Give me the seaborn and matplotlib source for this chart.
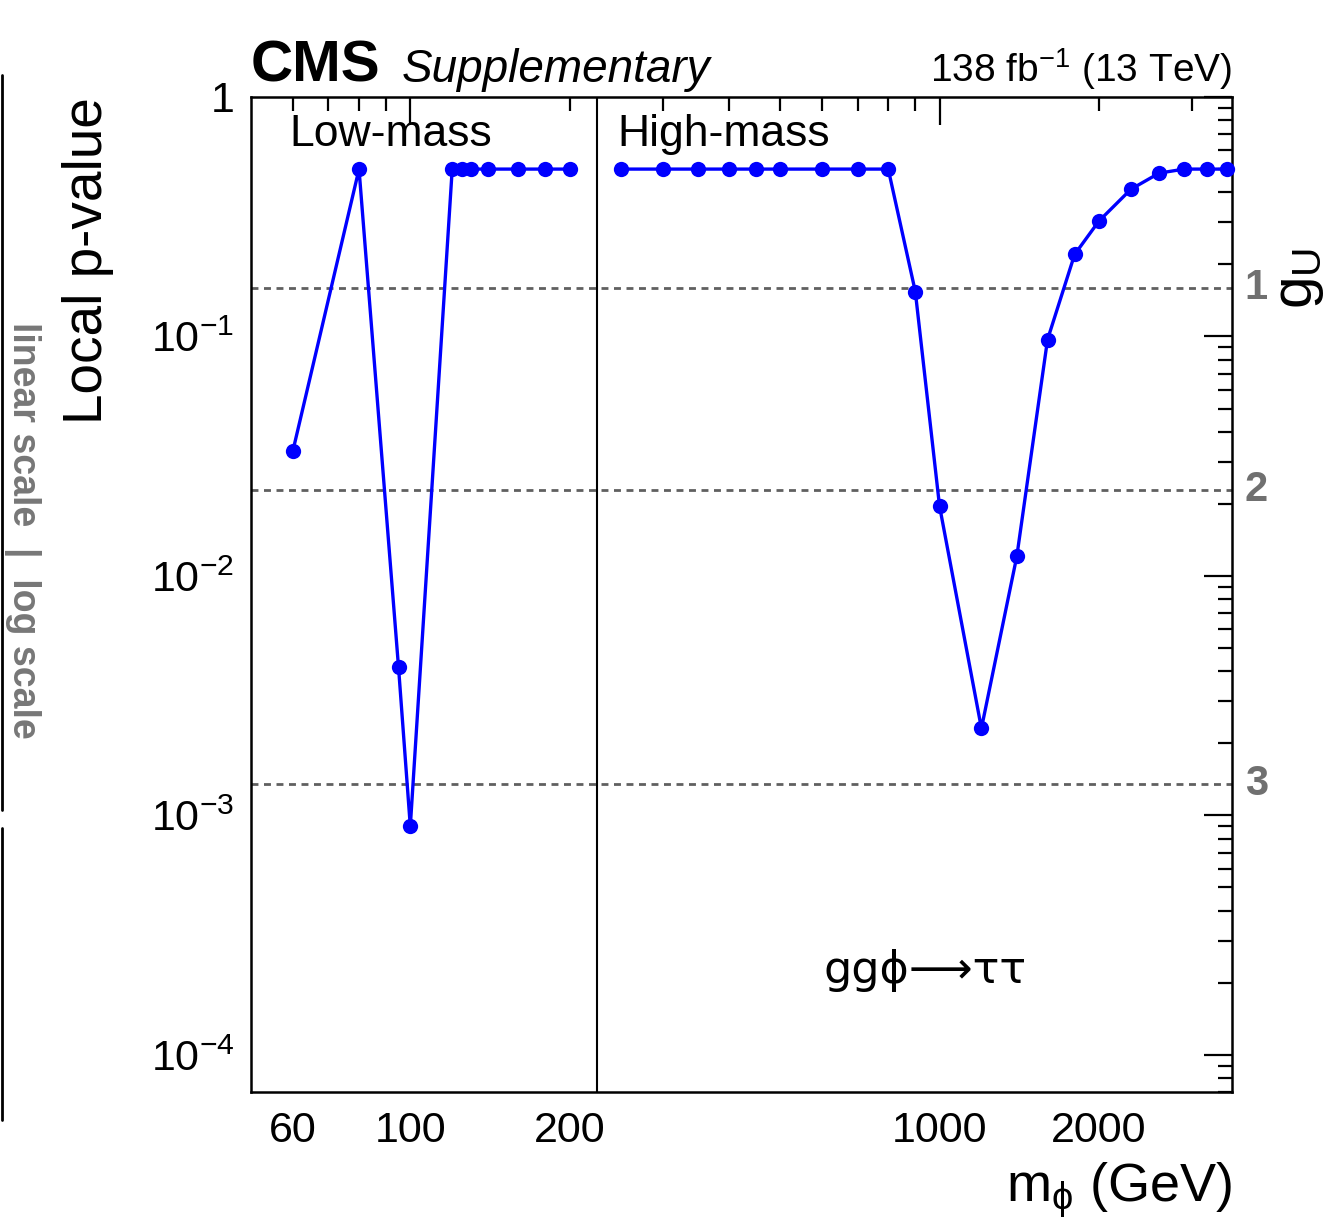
import numpy as np
import pandas as pd
import matplotlib
matplotlib.use("Agg")
import matplotlib.pyplot as plt
import seaborn as sns
from matplotlib.lines import Line2D
from matplotlib.ticker import LogLocator, FuncFormatter, NullFormatter

# ---------------- data ----------------
low_mass = [60, 80, 95, 100, 120, 125, 130, 140, 160, 180, 200]
low_pval = [0.0333, 0.5, 0.00416, 0.0009, 0.5, 0.5, 0.5, 0.5, 0.5, 0.5, 0.5]
high_mass = [250, 300, 350, 400, 450, 500, 600, 700, 800, 900, 1000, 1200,
             1400, 1600, 1800, 2000, 2300, 2600, 2900, 3200, 3500]
high_pval = [0.5, 0.5, 0.5, 0.5, 0.5, 0.5, 0.5, 0.5, 0.5, 0.154, 0.0196, 0.00231,
             0.0121, 0.0971, 0.22, 0.303, 0.412, 0.481, 0.5, 0.5, 0.5]
sigma_levels = [1, 2, 3]
sigma_pvals = [0.1587, 0.02275, 0.00135]
xtick_major = [100, 1000]
xtick_minor = [60, 70, 80, 90, 200, 300, 400, 500, 600, 700, 800, 900, 2000, 3000]
xtick_labels_major = ["100", "1000"]
xtick_labels_minor = ["60", "", "", "", "200", "", "", "", "", "", "", "", "2000", ""]

sns.set_theme(style="white")
plt.rcParams["font.family"] = ["Liberation Sans", "DejaVu Sans"]
plt.rcParams["mathtext.fontset"] = "custom"
plt.rcParams["mathtext.rm"] = "Liberation Sans"
plt.rcParams["mathtext.it"] = "Liberation Sans:italic"
plt.rcParams["mathtext.bf"] = "Liberation Sans:bold"
for k in ["text.color", "axes.labelcolor", "xtick.color", "ytick.color", "axes.edgecolor"]:
    plt.rcParams[k] = "black"

fig = plt.figure(figsize=(13.33, 12.25), dpi=100)
ax = fig.add_axes([251/1333, 1-1092/1225, (1232-251)/1333, (1092-97)/1225])

df_low = pd.DataFrame({"m": low_mass, "p": low_pval})
df_high = pd.DataFrame({"m": high_mass, "p": high_pval})
for d in (df_low, df_high):
    sns.lineplot(data=d, x="m", y="p", ax=ax, color="#0000ff", marker="o",
                 markersize=11, markeredgewidth=0, linewidth=2.4,
                 estimator=None, sort=False, zorder=5, clip_on=False)

ax.set_xscale("log")
ax.set_yscale("log")
ax.set_xlim(50, 3570)
ax.set_ylim(10**-4.155, 1)

for pv in sigma_pvals:
    ax.axhline(pv, color="#606060", linestyle=(0, (2.5, 2)), linewidth=2, zorder=2)
ax.axvline(225, color="black", linewidth=1.5, zorder=3)

# ticks
ax.set_xticks(xtick_major, labels=xtick_labels_major)
ax.set_xticks(xtick_minor, labels=xtick_labels_minor, minor=True)
ax.yaxis.set_major_locator(LogLocator(base=10, numticks=10))
ax.yaxis.set_minor_locator(LogLocator(base=10, subs=np.arange(2, 10), numticks=20))


def yfmt(v, pos):
    e = int(round(np.log10(v)))
    if e == 0:
        return "1"
    return r"$\mathregular{10^{-%d}}$" % (-e)


ax.yaxis.set_major_formatter(FuncFormatter(yfmt))
ax.yaxis.set_minor_formatter(NullFormatter())
ax.tick_params(which="both", direction="in", top=True, right=True, width=1.6,
               colors="black", labelsize=31)
ax.tick_params(which="major", length=20, pad=12)
ax.tick_params(which="minor", length=10, pad=12)
ax.tick_params(axis="x", which="both", pad=14)
for s in ax.spines.values():
    s.set_linewidth(1.8)
    s.set_color("black")

ax.set_xlabel("")
ax.set_ylabel("")
fig.text(1232/1333, 1-1190/1225, r"m$_{\mathrm{\phi}}$ (GeV)", ha="right", va="center", fontsize=39)
fig.text(88/1333, 1-97/1225, "Local p-value", ha="center", va="top", rotation=90, fontsize=39.5)

# texts inside
ax.text(0.039, 0.962, "Low-mass", transform=ax.transAxes, fontsize=32, ha="left", va="center")
ax.text(0.373, 0.962, "High-mass", transform=ax.transAxes, fontsize=32, ha="left", va="center")
ax.text(0.687, 0.122, "ggϕ⟶ττ", transform=ax.transAxes, fontsize=32, ha="center", va="center",
        family=["DejaVu Sans", "Liberation Sans"])

# sigma labels on right
for lvl, pv in zip(sigma_levels, sigma_pvals):
    ax.text(1.013, pv, str(lvl), transform=ax.get_yaxis_transform(), fontsize=30,
            fontweight="bold", color="#707070", ha="left", va="center", clip_on=False)
# right-hand axis title
fig.text(1272/1333, 1-278/1225, r"g$_{\mathrm{U}}$", rotation=90, fontsize=42,
         ha="left", va="center")

# header
fig.text(251/1333, 1-82/1225, "CMS", fontsize=42, fontweight="bold", ha="left", va="baseline")
fig.text(402/1333, 1-82/1225, "Supplementary", fontsize=33, style="italic", ha="left", va="baseline")
fig.text(1232/1333, 1-82/1225, r"138 fb$^{\mathregular{-1}}$ (13 TeV)", fontsize=28,
         ha="right", va="baseline")

# left side annotations
fig.text(22/1333, 1-530/1225, "linear scale  |  log scale", rotation=270, fontsize=27,
         fontweight="bold", color="#777777", ha="center", va="center")
fig.add_artist(Line2D([1.5/1333, 1.5/1333], [1-75/1225, 1-810/1225], color="black", linewidth=2,
                      transform=fig.transFigure))
fig.add_artist(Line2D([1.5/1333, 1.5/1333], [1-828/1225, 1-1120/1225], color="black", linewidth=2,
                      transform=fig.transFigure))

fig.savefig("out.png", dpi=100, facecolor="white")
